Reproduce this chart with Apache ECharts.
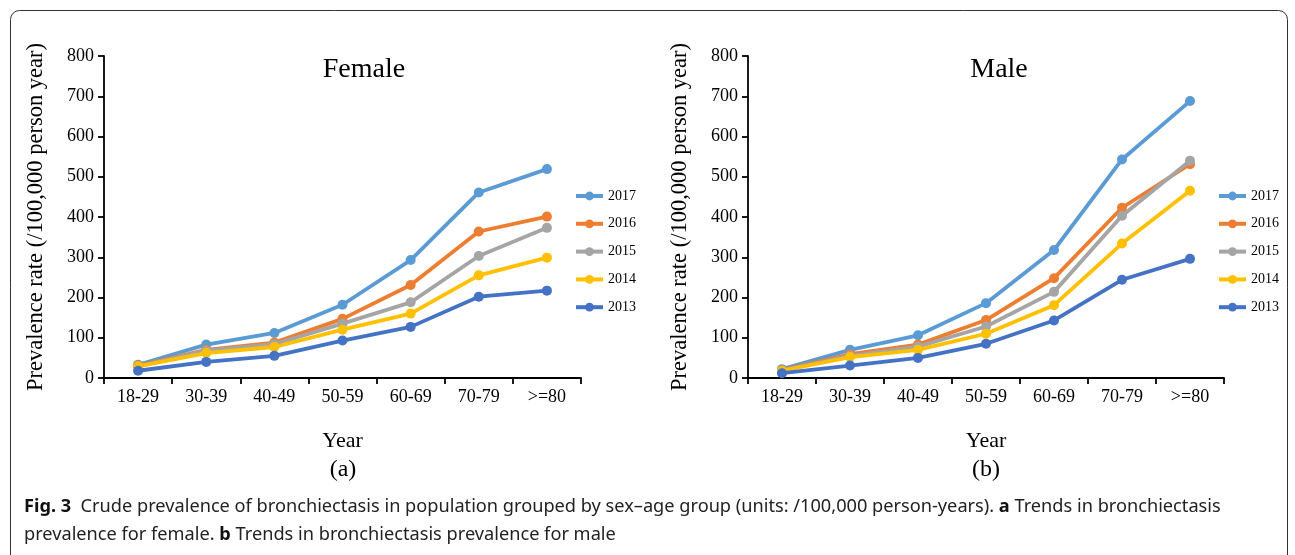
<!DOCTYPE html>
<html><head><meta charset="utf-8">
<script src="https://cdn.jsdelivr.net/npm/echarts@6/dist/echarts.min.js"></script>
<style>html,body{margin:0;padding:0;background:#fff}#c{width:1295px;height:555px}</style>
</head><body><div id="c"></div>
<script>
const categories = ['18-29','30-39','40-49','50-59','60-69','70-79','>=80'];
const years = ['2017','2016','2015','2014','2013'];
const colors = ['#5B9BD5','#ED7D31','#A5A5A5','#FFC000','#4472C4'];
const female2017 = [33, 83, 112, 182, 293, 461, 519];
const female2016 = [31, 70, 88, 147, 231, 364, 401];
const female2015 = [29, 68, 84, 135, 188, 303, 373];
const female2014 = [29, 62, 77, 120, 160, 255, 299];
const female2013 = [18, 40, 55, 93, 127, 202, 217];
const male2017 = [22, 70, 106, 186, 318, 543, 688];
const male2016 = [20, 59, 83, 144, 248, 423, 531];
const male2015 = [19, 55, 78, 128, 214, 403, 540];
const male2014 = [18, 52, 70, 110, 181, 334, 465];
const male2013 = [12, 31, 50, 85, 143, 244, 296];
const yTicks = [0,100,200,300,400,500,600,700,800];

const femaleData = [female2017, female2016, female2015, female2014, female2013];
const maleData = [male2017, male2016, male2015, male2014, male2013];

const serif = 'Liberation Serif';
function xAxis(gi){
  return {type:'category', gridIndex:gi, data:categories, boundaryGap:true,
    axisLine:{lineStyle:{color:'#000', width:1.8}},
    axisTick:{show:true, length:6, lineStyle:{color:'#000', width:1.8}, alignWithLabel:false},
    axisLabel:{color:'#000', fontFamily:serif, fontSize:18, margin:10},
    name:'Year', nameLocation:'middle', nameGap:52,
    nameTextStyle:{color:'#000', fontFamily:serif, fontSize:22}};
}
function yAxis(gi){
  return {type:'value', gridIndex:gi, min:yTicks[0], max:yTicks[yTicks.length-1], interval:100,
    axisLine:{show:true, lineStyle:{color:'#000', width:1.8}},
    axisTick:{show:true, length:6, lineStyle:{color:'#000', width:1.8}},
    splitLine:{show:false},
    axisLabel:{color:'#000', fontFamily:serif, fontSize:18, margin:10},
    name:'Prevalence rate (/100,000 person year)', nameLocation:'middle', nameGap:56,
    nameTextStyle:{color:'#000', fontFamily:serif, fontSize:22.5}};
}
const series = [];
[femaleData, maleData].forEach((set, gi) => {
  set.forEach((d, i) => {
    series.push({name:years[i], type:'line', xAxisIndex:gi, yAxisIndex:gi, data:d,
      symbol:'circle', symbolSize:10, showSymbol:true,
      lineStyle:{color:colors[i], width:3.8}, itemStyle:{color:colors[i]}, z:2+i});
  });
});
function legend(left){
  return {orient:'vertical', left:left, top:184, itemWidth:27, itemHeight:11, itemGap:13.8,
    lineStyle:{width:4},
    data:years, textStyle:{color:'#000', fontFamily:serif, fontSize:14}, selectedMode:false};
}
const chart = echarts.init(document.getElementById('c'));
chart.setOption({
  backgroundColor:'#fff',
  animation:false,
  color:colors,
  grid:[
    {left:104, top:56, width:477, height:322, containLabel:false},
    {left:748, top:56, width:476, height:322, containLabel:false}
  ],
  xAxis:[xAxis(0), xAxis(1)],
  yAxis:[yAxis(0), yAxis(1)],
  legend:[legend(569), legend(1212)],
  series:series,
  graphic:[
    {type:'rect', shape:{x:10.5, y:10.5, width:1277, height:560, r:9}, style:{fill:null, stroke:'#333', lineWidth:1}, silent:true},
    {type:'text', x:364, y:70, style:{text:'Female', font:'28px "Liberation Serif"', fill:'#000', textAlign:'center', textVerticalAlign:'middle'}},
    {type:'text', x:999, y:70, style:{text:'Male', font:'28px "Liberation Serif"', fill:'#000', textAlign:'center', textVerticalAlign:'middle'}},
    {type:'text', x:343, y:470, style:{text:'(a)', font:'24px "Liberation Serif"', fill:'#000', textAlign:'center', textVerticalAlign:'middle'}},
    {type:'text', x:986, y:470, style:{text:'(b)', font:'24px "Liberation Serif"', fill:'#000', textAlign:'center', textVerticalAlign:'middle'}},
    {type:'text', x:24, y:507, style:{
      text:'{b|Fig. 3}  Crude prevalence of bronchiectasis in population grouped by sex–age group (units: /100,000 person-years). {b|a} Trends in bronchiectasis',
      rich:{b:{fontWeight:'bold', fontFamily:'Noto Sans', fontSize:18.2, fill:'#111'}},
      font:'18.2px "Noto Sans"', fill:'#222', textVerticalAlign:'middle'}},
    {type:'text', x:24, y:535, style:{
      text:'prevalence for female. {b|b} Trends in bronchiectasis prevalence for male',
      rich:{b:{fontWeight:'bold', fontFamily:'Noto Sans', fontSize:18.2, fill:'#111'}},
      font:'18.2px "Noto Sans"', fill:'#222', textVerticalAlign:'middle'}}
  ]
});
</script></body></html>
